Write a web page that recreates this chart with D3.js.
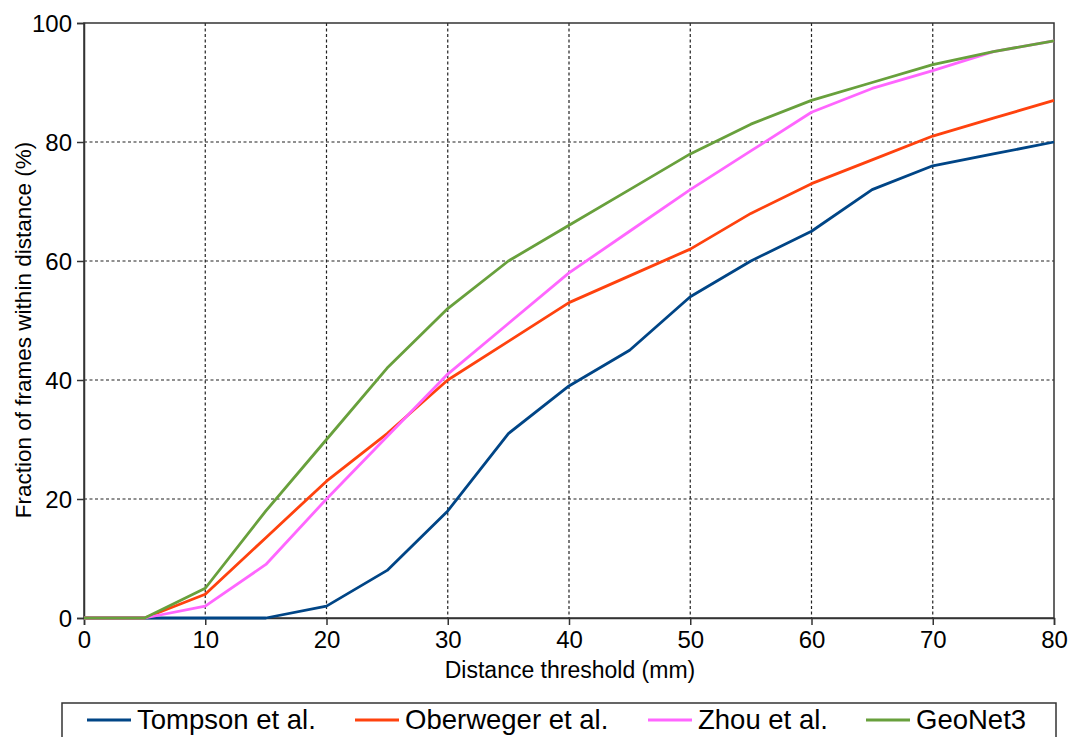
<!DOCTYPE html>
<html>
<head>
<meta charset="utf-8">
<script src="https://cdn.jsdelivr.net/npm/d3@7"></script>
<style>
  body { margin: 0; background: #fff; }
  text { font-family: "Liberation Sans", Arial, sans-serif; fill: #000; }
</style>
</head>
<body>
<svg id="chart"></svg>
<script>
// thresholds in mm
const thresholds = [0, 5, 10, 15, 20, 25, 30, 35, 40, 45, 50, 55, 60, 65, 70, 75, 80];
const tompson   = [0, 0, 0, 0, 2, 8, 18, 31, 39, 45, 54, 60, 65, 72, 76, 78, 80];
const oberweger = [0, 0, 4, 13.5, 23, 31, 40, 46.5, 53, 57.5, 62, 68, 73, 77, 81, 84, 87];
const zhou      = [0, 0, 2, 9, 20, 30.5, 41, 49.5, 58, 65, 72, 78.5, 85, 89, 92, 95.2, 97];
const geonet    = [0, 0, 5, 18, 30, 42, 52, 60, 66, 72, 78, 83, 87, 90, 93, 95.2, 97];
const seriesNames = ["Tompson et al.", "Oberweger et al.", "Zhou et al.", "GeoNet3"];
const seriesColors = ["#004586", "#ff420e", "#ff66ff", "#68a03c"];
const xTicks = [0, 10, 20, 30, 40, 50, 60, 70, 80];
const yTicks = [0, 20, 40, 60, 80, 100];

const series = [tompson, oberweger, zhou, geonet].map((vals, i) => ({
    name: seriesNames[i],
    color: seriesColors[i],
    values: vals.map((v, j) => ({ x: thresholds[j], y: v }))
}));

const width = 1072, height = 737;
const margin = { top: 23, right: 18, bottom: 119, left: 84 };
const w = width - margin.left - margin.right;
const h = height - margin.top - margin.bottom;

const svg = d3.select("#chart")
    .attr("width", width)
    .attr("height", height);

const xScale = d3.scaleLinear().domain([0, 80]).range([0, w]);
const yScale = d3.scaleLinear().domain([0, 100]).range([h, 0]);

const chart = svg.append("g")
    .attr("transform", `translate(${margin.left}, ${margin.top})`);

// grid
chart.append("g")
    .selectAll("line")
    .data(xTicks.filter(d => d > 0 && d < 80))
    .join("line")
    .attr("x1", d => xScale(d)).attr("x2", d => xScale(d))
    .attr("y1", 0).attr("y2", h)
    .attr("stroke", "#222").attr("stroke-width", 1.2)
    .attr("stroke-dasharray", "3,2.5");

chart.append("g")
    .selectAll("line")
    .data(yTicks.filter(d => d > 0 && d < 100))
    .join("line")
    .attr("x1", 0).attr("x2", w)
    .attr("y1", d => yScale(d)).attr("y2", d => yScale(d))
    .attr("stroke", "#222").attr("stroke-width", 1.2)
    .attr("stroke-dasharray", "3,2.5");

// frame
chart.append("rect")
    .attr("width", w).attr("height", h)
    .attr("fill", "none")
    .attr("stroke", "#333").attr("stroke-width", 1.5);

// axes
const xAxis = d3.axisBottom(xScale).tickValues(xTicks).tickSize(7).tickPadding(6);
const yAxis = d3.axisLeft(yScale).tickValues(yTicks).tickSize(7).tickPadding(5);

const xg = chart.append("g")
    .attr("transform", `translate(0, ${h})`)
    .call(xAxis);
const yg = chart.append("g").call(yAxis);

[xg, yg].forEach(g => {
    g.select(".domain").attr("stroke", "#333").attr("stroke-width", 1.5);
    g.selectAll(".tick line").attr("stroke", "#333").attr("stroke-width", 1.5);
    g.selectAll(".tick text")
        .style("font-family", "'Liberation Sans', Arial, sans-serif")
        .style("font-size", "24px")
        .attr("fill", "#000");
});
yg.selectAll(".tick text").attr("dy", "0.36em");

// lines
const line = d3.line()
    .x(d => xScale(d.x))
    .y(d => yScale(d.y));

chart.append("g")
    .selectAll("path")
    .data(series)
    .join("path")
    .attr("d", d => line(d.values))
    .attr("fill", "none")
    .attr("stroke", d => d.color)
    .attr("stroke-width", 2.8)
    .attr("stroke-linejoin", "round");

// axis titles
svg.append("text")
    .attr("x", 570)
    .attr("y", 678)
    .attr("text-anchor", "middle")
    .style("font-size", "23px")
    .text("Distance threshold (mm)");

svg.append("text")
    .attr("transform", "translate(31, 330) rotate(-90)")
    .attr("text-anchor", "middle")
    .style("font-size", "22.5px")
    .text("Fraction of frames within distance (%)");

// legend
const legend = svg.append("g");
legend.append("rect")
    .attr("x", 62).attr("y", 703)
    .attr("width", 994).attr("height", 50)
    .attr("fill", "#fff")
    .attr("stroke", "#333").attr("stroke-width", 1.5);

const legendX = [87, 355, 648, 866];
const items = legend.selectAll("g.item")
    .data(series)
    .join("g")
    .attr("class", "item")
    .attr("transform", (d, i) => `translate(${legendX[i]}, 720)`);

items.append("line")
    .attr("x1", 0).attr("x2", 44)
    .attr("y1", 0).attr("y2", 0)
    .attr("stroke", d => d.color)
    .attr("stroke-width", 2.8);

items.append("text")
    .attr("x", 50)
    .attr("y", 9)
    .style("font-size", "27.5px")
    .text(d => d.name);
</script>
</body>
</html>
